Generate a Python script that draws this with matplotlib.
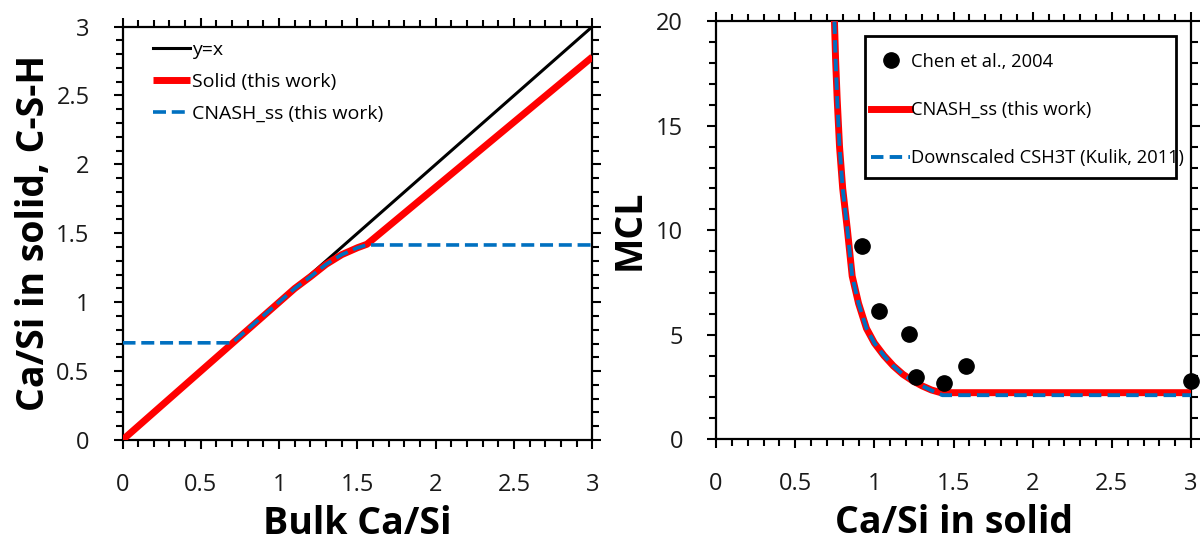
import matplotlib
matplotlib.use("Agg")
import matplotlib.pyplot as plt
from matplotlib.patches import Rectangle
from matplotlib.ticker import MultipleLocator

plt.rcParams["font.family"] = ["Open Sans", "DejaVu Sans"]

# left panel: Ca/Si in C-S-H vs bulk Ca/Si
bulk_x = [0.0, 3.0]
bulk_y = [0.0, 3.0]
solid_x = [0.0, 1.10, 1.20, 1.30, 1.40, 1.50, 1.56, 3.0]
solid_y = [0.0, 1.10, 1.185, 1.275, 1.345, 1.395, 1.42, 2.78]
cnash_x = [0.0, 0.70, 1.10, 1.20, 1.30, 1.40, 1.50, 1.56, 3.0]
cnash_y = [0.705, 0.705, 1.10, 1.185, 1.275, 1.345, 1.395, 1.415, 1.415]

# right panel: MCL vs Ca/Si in solid
chen_x = [0.92, 1.03, 1.22, 1.26, 1.44, 1.58, 3.0]
chen_y = [9.25, 6.13, 5.03, 2.99, 2.67, 3.51, 2.80]
mcl_x = [0.748, 0.755, 0.765, 0.78, 0.80, 0.83, 0.86, 0.90, 0.95, 1.00,
         1.06, 1.12, 1.18, 1.24, 1.30, 1.36, 1.42, 3.0]
mcl_red = [20.0, 18.2, 16.3, 14.0, 12.0, 10.0, 7.8, 6.5, 5.3, 4.6,
           4.0, 3.5, 3.1, 2.8, 2.55, 2.35, 2.22, 2.22]
mcl_blue_x = [0.748, 0.755, 0.765, 0.78, 0.80, 0.83, 0.86, 0.90, 0.95, 1.00,
              1.06, 1.12, 1.18, 1.24, 1.30, 1.36, 1.43, 3.0]
mcl_blue = [20.0, 18.2, 16.3, 14.0, 12.0, 10.0, 7.8, 6.5, 5.3, 4.6,
            4.0, 3.5, 3.1, 2.8, 2.55, 2.33, 2.1, 2.1]

RED = "#ff0000"
BLUE = "#0070c0"
TICK_FS = 17
LABEL_FS = 27


def style_axes(ax, xmajor, ymajor, yminor):
    ax.xaxis.set_major_locator(MultipleLocator(xmajor))
    ax.xaxis.set_minor_locator(MultipleLocator(0.1))
    ax.yaxis.set_major_locator(MultipleLocator(ymajor))
    ax.yaxis.set_minor_locator(MultipleLocator(yminor))
    ax.tick_params(which="both", direction="out", top=True, right=True,
                   width=1.5, colors="black", labelcolor="#1a1a1a",
                   labelsize=TICK_FS)
    ax.tick_params(axis="x", which="major", pad=17)
    ax.tick_params(axis="y", which="major", pad=17)
    ax.tick_params(which="major", length=6.7)
    ax.tick_params(which="minor", length=4.8)
    for spine in ax.spines.values():
        spine.set_linewidth(1.6)
    ax.xaxis.set_major_formatter(plt.FuncFormatter(lambda v, p: f"{v:g}"))
    ax.yaxis.set_major_formatter(plt.FuncFormatter(lambda v, p: f"{v:g}"))


fig = plt.figure(figsize=(12.01, 5.41), dpi=100)
ax1 = fig.add_axes([0.102, 0.1867, 0.3913, 0.7643])
ax2 = fig.add_axes([0.5962, 0.1885, 0.3955, 0.7718])

ax1.plot(bulk_x, bulk_y, color="black", lw=2.2, label="y=x", zorder=2)
ax1.plot(solid_x, solid_y, color=RED, lw=5, label="Solid (this work)",
         solid_capstyle="butt", zorder=3)
ax1.plot(cnash_x, cnash_y, color=BLUE, lw=2.6, dashes=(3.6, 1.6),
         label="CNASH_ss (this work)", zorder=4)
ax1.set_xlim(0, 3)
ax1.set_ylim(0, 3)
style_axes(ax1, 0.5, 0.5, 0.1)
ax1.set_xlabel("Bulk Ca/Si", fontsize=LABEL_FS, fontweight="bold", labelpad=6)
ax1.set_ylabel("Ca/Si in solid, C-S-H", fontsize=LABEL_FS, fontweight="bold", labelpad=2)
ax1.legend(loc="upper left", frameon=False, fontsize=14, handlelength=1.95,
           handletextpad=0.1, labelspacing=0.73, borderaxespad=0.0,
           borderpad=0.0, bbox_to_anchor=(0.064, 0.966))

ax2.plot(chen_x, chen_y, "o", color="black", ms=11, label="Chen et al., 2004",
         zorder=5, clip_on=False)
ax2.plot(mcl_x, mcl_red, color=RED, lw=5, label="CNASH_ss (this work)", zorder=3)
ax2.plot(mcl_blue_x, mcl_blue, color=BLUE, lw=2.8, dashes=(3.2, 1.6),
         label="Downscaled CSH3T (Kulik, 2011)", zorder=4)
ax2.set_xlim(0, 3)
ax2.set_ylim(0, 20)
style_axes(ax2, 0.5, 5, 1)
ax2.set_xlabel("Ca/Si in solid", fontsize=LABEL_FS, fontweight="bold", labelpad=6)
ax2.set_ylabel("MCL", fontsize=LABEL_FS, fontweight="bold", labelpad=5)
ax2.legend(loc="upper left", bbox_to_anchor=(0.3263, 0.9257), frameon=False,
           fontsize=13.2, handlelength=2.15, handletextpad=0.05,
           labelspacing=1.66, borderaxespad=0.0, borderpad=0.0)
# legend box drawn separately so its size can follow the reference
ax2.add_patch(Rectangle((0.3137, 0.6251), 0.6547, 0.3402, transform=ax2.transAxes,
                        fill=False, edgecolor="black", lw=2, zorder=6))

fig.savefig("out.png", dpi=100)
